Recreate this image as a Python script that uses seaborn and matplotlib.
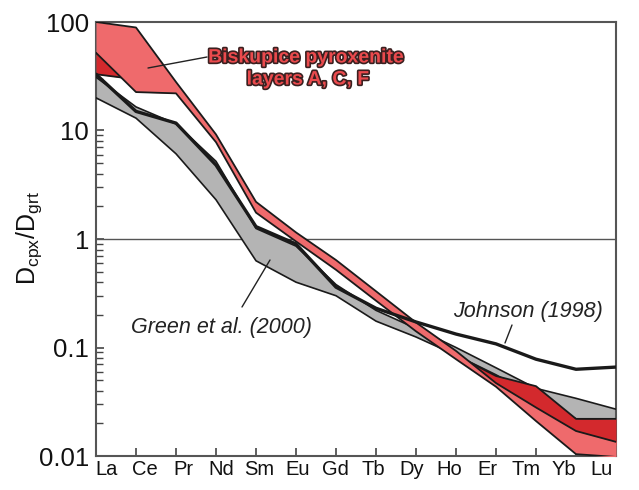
import numpy as np
import pandas as pd
import matplotlib
matplotlib.use("Agg")
import matplotlib.pyplot as plt
import matplotlib.transforms as mtransforms
import seaborn as sns
from matplotlib import patheffects as pe
from matplotlib.ticker import LogLocator, NullFormatter, FixedLocator

# ---------------- data ----------------
elements = ["La", "Ce", "Pr", "Nd", "Sm", "Eu", "Gd", "Tb", "Dy", "Ho", "Er", "Tm", "Yb", "Lu"]

johnson = [33, 15, 11.7, 4.8, 1.3, 0.9, 0.36, 0.23, 0.172, 0.133, 0.108, 0.078, 0.063, 0.066]

green_upper = [31, 16.5, 11.5, 5.2, 1.25, 0.86, 0.38, 0.22, 0.15, 0.10, 0.065, 0.042, 0.034, 0.027]
green_lower = [20, 13, 6.1, 2.3, 0.63, 0.40, 0.30, 0.175, 0.125, 0.085, 0.056, 0.035, 0.022, 0.021]

bisk_a_upper = [100, 89, 28, 9.2, 2.2, 1.15, 0.64, 0.33, 0.17, 0.093, 0.047, 0.028, 0.017, 0.0135]
bisk_a_lower = [52, 22.6, 22, 7.8, 1.75, 0.95, 0.52, 0.27, 0.141, 0.078, 0.0435, 0.021, 0.0104, 0.0098]

bisk_c_upper = [52, 30, 25, 8.5, 2.0, 1.05, 0.58, 0.30, 0.155, 0.085, 0.0546, 0.044, 0.022, 0.022]
bisk_c_lower = [33, 29.6, 24, 8.4, 1.95, 1.03, 0.57, 0.29, 0.152, 0.082, 0.045, 0.026, 0.016, 0.0125]

yticks = [0.01, 0.1, 1, 10, 100]
ytick_labels = ["0.01", "0.1", "1", "10", "100"]

# ---------------- style ----------------
sns.set_theme(style="ticks")
plt.rcParams["font.family"] = ["Liberation Sans", "DejaVu Sans"]

W, H = 639, 490
fig = plt.figure(figsize=(W / 100, H / 100), dpi=100)
L, R, T, B = 96, 616, 22, 456
ax = fig.add_axes([L / W, 1 - B / H, (R - L) / W, (B - T) / H])

x = np.arange(len(elements))
df = pd.DataFrame({"x": x, "johnson": johnson,
                   "gu": green_upper, "gl": green_lower,
                   "au": bisk_a_upper, "al": bisk_a_lower,
                   "cu": bisk_c_upper, "cl": bisk_c_lower})

GRAY = "#b4b4b4"
LIGHT = "#ef6a6c"
DARK = "#d3292d"
EDGE = "#1a1a1a"

ax.axhline(1, color="#555555", lw=1.0, zorder=1)

# Green et al. band
ax.fill_between(df["x"], df["gl"], df["gu"], color=GRAY, lw=0, zorder=2)
for col in ["gu", "gl"]:
    sns.lineplot(data=df, x="x", y=col, ax=ax, color=EDGE, lw=1.2, zorder=3)

# Biskupice layers
ax.fill_between(df["x"], df["cl"], df["cu"], color=DARK, lw=0, zorder=4)
for col in ["cu", "cl"]:
    sns.lineplot(data=df, x="x", y=col, ax=ax, color=EDGE, lw=1.3, zorder=5)
ax.fill_between(df["x"], df["al"], df["au"], color=LIGHT, lw=0, zorder=6)
for col in ["au", "al"]:
    sns.lineplot(data=df, x="x", y=col, ax=ax, color=EDGE, lw=1.3, zorder=7)

# Johnson line
sns.lineplot(data=df, x="x", y="johnson", ax=ax, color=EDGE, lw=2.4, zorder=8)

ax.set_yscale("log")
ax.set_ylim(0.01, 100)
ax.set_xlim(0, len(elements) - 1)

ax.set_xticks(x)
ax.set_xticklabels(elements, fontsize=14.5)
ax.yaxis.set_major_locator(FixedLocator(yticks))
ax.set_yticklabels(ytick_labels, fontsize=18.5)
ax.yaxis.set_minor_locator(LogLocator(base=10, subs=np.arange(2, 10)))
ax.yaxis.set_minor_formatter(NullFormatter())
ax.tick_params(axis="both", which="major", direction="in", length=6, width=1.2,
               color="#444444", labelcolor="#111111")
ax.tick_params(axis="y", which="minor", direction="in", length=5, width=1.0, color="#444444")
ax.tick_params(axis="x", pad=3)
ax.tick_params(axis="y", pad=5)

# slight horizontal shifts of element labels, as in the reference
n = len(elements)
for i, lab in enumerate(ax.get_xticklabels()):
    dx = (11 - 25 * i / (n - 1)) / 100.0
    lab.set_transform(lab.get_transform() + mtransforms.ScaledTranslation(dx, 0, fig.dpi_scale_trans))

ax.set_xlabel("")
ax.set_ylabel(r"$\mathregular{D_{cpx}/D_{grt}}$", fontsize=18, color="#111111")
ax.yaxis.label.set_va("center")
ax.yaxis.set_label_coords((29 - L) / (R - L), (B - 238) / (B - T))

for s in ax.spines.values():
    s.set_color("#555555")
    s.set_linewidth(1.5)
    s.set_visible(True)


def axc(px, py):
    return ((px - L) / (R - L), (B - py) / (B - T))


# annotations
t1 = ax.text(*axc(306, 58), "Biskupice pyroxenite", transform=ax.transAxes,
             ha="center", va="center", fontsize=14, fontweight="bold",
             color="#ea4a4d", zorder=10)
t2 = ax.text(*axc(308, 80), "layers A, C, F", transform=ax.transAxes,
             ha="center", va="center", fontsize=14, fontweight="bold",
             color="#ea4a4d", zorder=10)
for t in (t1, t2):
    t.set_path_effects([pe.withStroke(linewidth=2.4, foreground="#3a2020")])

ax.text(*axc(528, 312), "Johnson (1998)", transform=ax.transAxes, ha="center",
        va="center", fontsize=15.5, style="italic", color="#222222", zorder=10)
ax.text(*axc(221, 327), "Green et al. (2000)", transform=ax.transAxes, ha="center",
        va="center", fontsize=15.5, style="italic", color="#222222", zorder=10)

for (x0, y0), (x1, y1) in [((207, 57), (148, 68)), ((242, 307), (270, 260)),
                           ((512, 325), (505, 343))]:
    a0, b0 = axc(x0, y0)
    a1, b1 = axc(x1, y1)
    ax.plot([a0, a1], [b0, b1], transform=ax.transAxes, color="#222222", lw=1.0, zorder=11)

fig.savefig("out.png", dpi=100)
